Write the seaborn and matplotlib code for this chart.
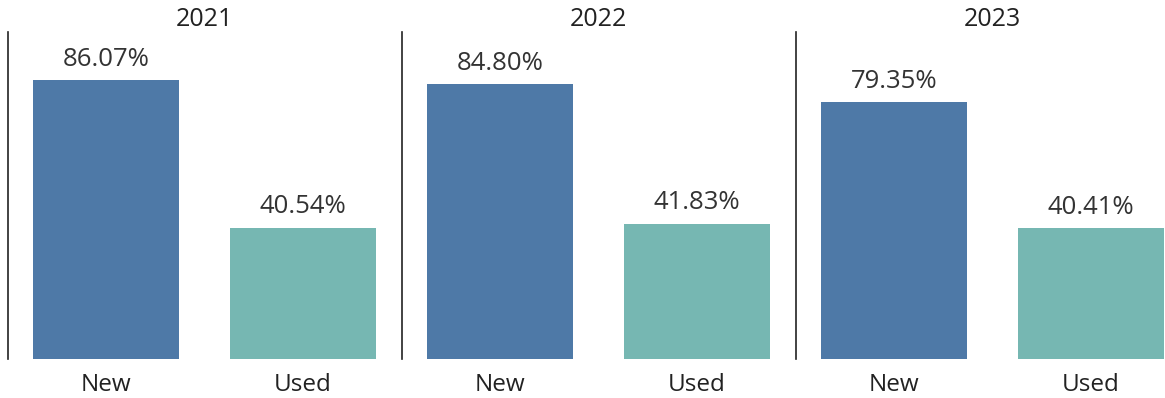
import pandas as pd
import matplotlib
matplotlib.use("Agg")
import matplotlib.pyplot as plt
import seaborn as sns

# data
years = ["2021", "2022", "2023"]
conditions = ["New", "Used"]
new_pct = [86.07, 84.80, 79.35]
used_pct = [40.54, 41.83, 40.41]
colors = {"New": "#4e79a7", "Used": "#76b7b2"}

sns.set_style("white")
plt.rcParams['font.family'] = ['Open Sans', 'DejaVu Sans']

rows = []
for y, n, u in zip(years, new_pct, used_pct):
    rows.append({"year": y, "condition": "New", "pct": n})
    rows.append({"year": y, "condition": "Used", "pct": u})
df = pd.DataFrame(rows)

W, H = 1165, 398
fig = plt.figure(figsize=(W / 100, H / 100), dpi=100)

panel_w = 394
lefts = [7.5, 401.5, 795.5]
bottom = 39 / H
height = 327 / H

for left, year in zip(lefts, years):
    ax = fig.add_axes([left / W, bottom, panel_w / W, height])
    sub = df[df["year"] == year]
    sns.barplot(data=sub, x="condition", y="pct", hue="condition",
                order=conditions, hue_order=conditions, palette=colors,
                width=0.74, legend=False, ax=ax, saturation=1, linewidth=0)
    for c in ax.containers:
        ax.bar_label(c, fmt="%.2f%%", padding=6, fontsize=18.5, color="#333333")
    ax.set_xlim(-0.5, 1.5)
    ax.set_ylim(0, 101)
    ax.set_yticks([])
    ax.set_xlabel("")
    ax.set_ylabel("")
    ax.tick_params(axis="x", length=0, pad=10, labelsize=17.5, labelcolor="#222222")
    ax.set_title(year, fontsize=18, pad=4, color="#222222")
    for s in ["top", "right", "bottom"]:
        ax.spines[s].set_visible(False)
    ax.spines["left"].set_color("#222222")
    ax.spines["left"].set_linewidth(1.2)
    ax.patch.set_alpha(0)

fig.savefig("out.png", dpi=100)
